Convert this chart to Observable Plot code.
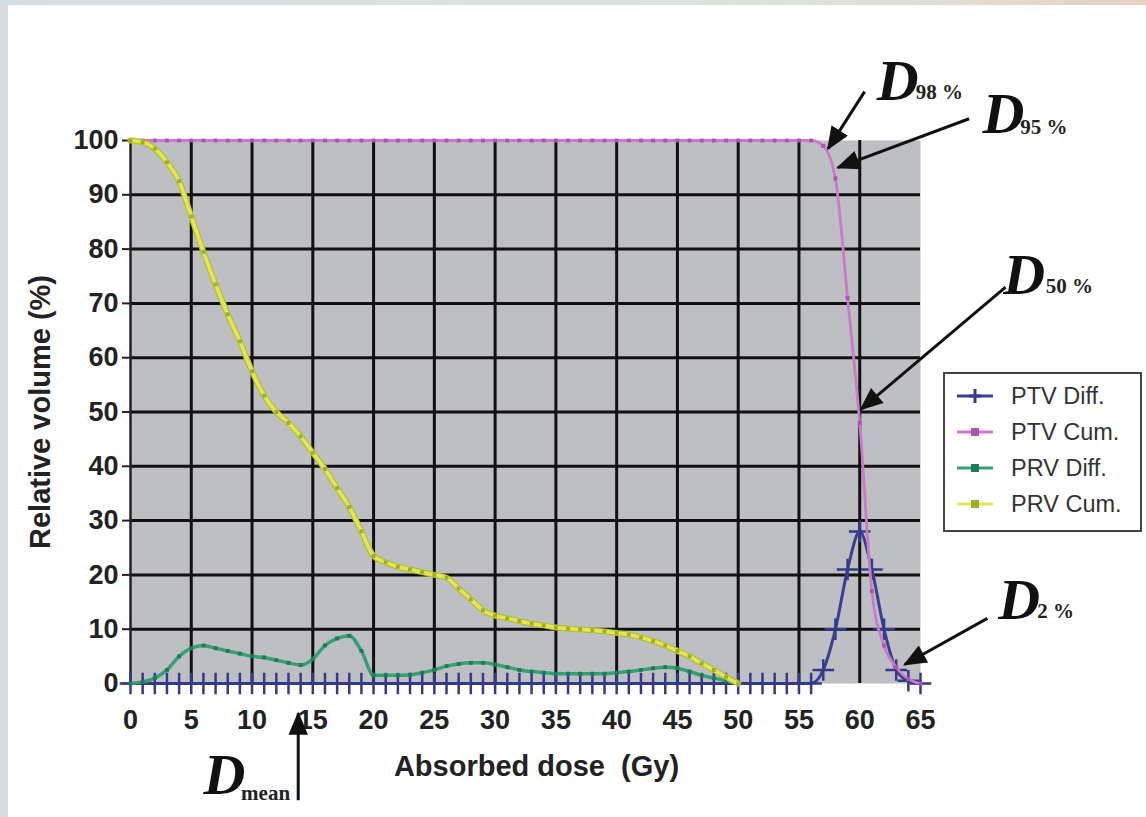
<!DOCTYPE html>
<html>
<head>
<meta charset="utf-8">
<script src="https://cdn.jsdelivr.net/npm/d3@7"></script>
<script src="https://cdn.jsdelivr.net/npm/@observablehq/plot@0.6"></script>
<style>
  html, body { margin: 0; padding: 0; }
  body {
    width: 1146px; height: 817px; position: relative; overflow: hidden;
    background: linear-gradient(90deg, #d4dee2 0%, #d9e1e1 40%, #dbe2d8 70%, #e0ddd2 82%, #e8d1c4 100%);
  }
  #card { position: absolute; left: 8px; top: 5px; right: 0; bottom: 0; background: #fff; }
  #chart { position: absolute; left: 0; top: 0; }
  #legend {
    position: absolute; left: 943px; top: 372px; width: 195px; height: 152px;
    border: 2px solid #444; background: #fff;
    font-family: "Liberation Sans", Arial, sans-serif; font-size: 23.5px; color: #333;
    box-sizing: content-box; padding-top: 4px;
  }
  .item { display: flex; align-items: center; height: 36px; }
  .item svg { margin-left: 10px; margin-right: 16px; }
</style>
</head>
<body>
<div id="card"></div>
<div id="chart"></div>
<div id="legend"></div>
<script>
// ---------- data ----------
const doseGy = [0,1,2,3,4,5,6,7,8,9,10,11,12,13,14,15,16,17,18,19,20,21,22,23,24,25,26,27,28,29,30,
  31,32,33,34,35,36,37,38,39,40,41,42,43,44,45,46,47,48,49,50,51,52,53,54,55,56,57,58,59,60,61,62,63,64,65];

const ptvDiff = [0,0,0,0,0,0,0,0,0,0,0,0,0,0,0,0,0,0,0,0,0,0,0,0,0,0,0,0,0,0,0,
  0,0,0,0,0,0,0,0,0,0,0,0,0,0,0,0,0,0,0,0,0,0,0,0,0,0,2.5,10,21,28,21,10,2.5,0.5,0];

const ptvCum = [100,100,100,100,100,100,100,100,100,100,100,100,100,100,100,100,100,100,100,100,100,
  100,100,100,100,100,100,100,100,100,100,100,100,100,100,100,100,100,100,100,100,100,100,100,100,100,
  100,100,100,100,100,100,100,100,100,100,100,99,93,71,48,17,7,3,0.8,0];

const prvDiff = [0,0.3,1,2.5,5,6.5,7,6.5,6,5.5,5,4.8,4.3,3.8,3.4,4.5,7,8.3,8.8,6,1.5,1.5,1.5,1.6,2,2.5,
  3.2,3.6,3.8,3.8,3.5,3,2.5,2.2,2,1.8,1.8,1.8,1.8,1.8,2,2.2,2.5,2.8,3,2.8,2.2,1.5,1,0.5,0];

const prvCum = [100,99.7,98.5,96,92.5,86,79.5,73.5,68,63,57.5,53,50,48,45.5,42.5,39.5,36,32.5,28,23.5,
  22.3,21.5,21,20.5,20,19.5,17.5,15.5,13.5,12.5,12,11.5,11,10.7,10.3,10.1,10,9.8,9.6,9.3,9,8.5,7.8,7,6,
  5,3.7,2.5,1.2,0];

const seriesNames = ["PTV Diff.", "PTV Cum.", "PRV Diff.", "PRV Cum."];
const xTicks = [0,5,10,15,20,25,30,35,40,45,50,55,60,65];
const yTicks = [0,10,20,30,40,50,60,70,80,90,100];
const xLabel = "Absorbed dose \u00a0(Gy)";
const yLabel = "Relative volume (%)";

// annotations (data coordinates)
const annLabels = ["98 %", "95 %", "50 %", "2 %", "mean"];
const annDX = [61.4, 70.1, 71.8, 71.4, 6.0];
const annDY = [107.4, 101.4, 71.7, 11.8, -20.3];
const annSubX = [64.6, 73.2, 75.3, 74.6, 9.1];
const annSubY = [107.6, 101.2, 71.9, 12.0, -21.4];
const arrowTailX = [60.4, 69.0, 72.0, 70.5, 13.8];
const arrowTailY = [109, 104, 73, 12, -21.5];
const arrowTipX = [57.4, 58.2, 60.1, 63.7, 13.8];
const arrowTipY = [98.5, 95, 50.5, 3.5, -5.5];

// ---------- styles ----------
const colors = { "PTV Diff.": "#3b3f91", "PTV Cum.": "#c97acb", "PRV Diff.": "#35a078", "PRV Cum.": "#e4e850" };
const markerColors = { "PTV Diff.": "#343a88", "PTV Cum.": "#b252b4", "PRV Diff.": "#1f7a57", "PRV Cum.": "#9eae2c" };

// ---------- tables ----------
const arrays = [ptvDiff, ptvCum, prvDiff, prvCum];
const table = seriesNames.map((name, k) =>
  arrays[k].map((v, i) => ({ series: name, dose: doseGy[i], value: v }))
);
const annotations = annLabels.map((t, i) => ({
  sub: t, dx: annDX[i], dy: annDY[i], sx: annSubX[i], sy: annSubY[i],
  x1: arrowTailX[i], y1: arrowTailY[i], x2: arrowTipX[i], y2: arrowTipY[i]
}));

const serif = "'Liberation Serif', 'Times New Roman', serif";

const lineMark = (k, w, color) => Plot.line(table[k], {
  x: "dose", y: "value", stroke: color || colors[seriesNames[k]], strokeWidth: w, curve: "monotone-x"
});

const chart = Plot.plot({
  width: 1146, height: 817,
  marginLeft: 130, marginRight: 226, marginTop: 140, marginBottom: 134,
  x: { domain: [0, 65] },
  y: { domain: [0, 100] },
  style: { background: "transparent", fontFamily: "'Liberation Sans', Arial, sans-serif", color: "#222", overflow: "visible" },
  marks: [
    Plot.frame({ fill: "#bebfc3", stroke: null }),
    Plot.gridX(xTicks.filter(d => d > 0 && d < 65), { stroke: "#111", strokeOpacity: 1, strokeWidth: 3 }),
    Plot.gridY(yTicks.filter(d => d > 0 && d < 100), { stroke: "#111", strokeOpacity: 1, strokeWidth: 3 }),
    Plot.ruleX([0], { stroke: "#222", strokeWidth: 2.5 }),
    Plot.axisY(yTicks, { tickSize: 8, tickPadding: 4, fontSize: 27, fontWeight: "bold", label: null, stroke: "#222", strokeWidth: 2 }),
    Plot.axisX(xTicks, { tickSize: 0, tickPadding: 26, fontSize: 27, fontWeight: "bold", label: null }),
    Plot.text([yLabel], { frameAnchor: "left", textAnchor: "middle", dx: -90, rotate: -90, fontSize: 29, fontWeight: "bold", fill: "#222" }),
    Plot.text([xLabel], { frameAnchor: "bottom", textAnchor: "middle", dx: 11, dy: 92, fontSize: 29, fontWeight: "bold", fill: "#222" }),
    // PTV Diff
    lineMark(0, 3),
    Plot.dot(table[0], { x: "dose", y: "value", symbol: "plus", r: 7, stroke: markerColors["PTV Diff."], strokeWidth: 2.5 }),
    // PTV Cum
    lineMark(1, 2.8),
    Plot.dot(table[1], { x: "dose", y: "value", symbol: "square", r: 2.2, fill: markerColors["PTV Cum."] }),
    // PRV Diff
    lineMark(2, 3.5),
    Plot.dot(table[2], { x: "dose", y: "value", symbol: "square", r: 2.2, fill: markerColors["PRV Diff."] }),
    // PRV Cum (olive edge + yellow core)
    lineMark(3, 6, "#b4bc3c"),
    lineMark(3, 3.6),
    Plot.dot(table[3], { x: "dose", y: "value", symbol: "square", r: 2.2, fill: markerColors["PRV Cum."] }),
    // annotations
    Plot.link(annotations, { x1: "x1", y1: "y1", x2: "x2", y2: "y2", stroke: "#111", strokeWidth: 3 }),
    Plot.text(annotations, { x: "dx", y: "dy", text: () => "D", textAnchor: "start", lineAnchor: "bottom",
      fontFamily: serif, fontStyle: "italic", fontWeight: "bold", fontSize: 58, fill: "#111" }),
    Plot.text(annotations, { x: "sx", y: "sy", text: "sub", textAnchor: "start", lineAnchor: "bottom",
      fontFamily: serif, fontWeight: "bold", fontSize: 21, fill: "#222" })
  ]
});
document.getElementById("chart").appendChild(chart);

// filled arrowheads for the annotation links
const svg = d3.select(chart);
svg.insert("defs", ":first-child").append("marker")
  .attr("id", "ah").attr("viewBox", "0 0 12 10").attr("refX", 11).attr("refY", 5)
  .attr("markerWidth", 8).attr("markerHeight", 6.5).attr("markerUnits", "strokeWidth").attr("orient", "auto")
  .append("path").attr("d", "M0,0L12,5L0,10Z").attr("fill", "#111");
svg.selectAll('g[aria-label="link"] path').attr("marker-end", "url(#ah)");

// legend
const legend = d3.select("#legend");
seriesNames.forEach(name => {
  const row = legend.append("div").attr("class", "item");
  const s = row.append("svg").attr("width", 40).attr("height", 20);
  s.append("line").attr("x1", 2).attr("x2", 38).attr("y1", 10).attr("y2", 10)
    .attr("stroke", colors[name]).attr("stroke-width", 3);
  if (name === "PTV Diff.") {
    s.append("path").attr("d", "M20,3V17M14,10H26").attr("stroke", markerColors[name]).attr("stroke-width", 3);
  } else {
    s.append("rect").attr("x", 16).attr("y", 6).attr("width", 8).attr("height", 8).attr("fill", markerColors[name]);
  }
  row.append("span").text(name);
});
</script>
</body>
</html>
